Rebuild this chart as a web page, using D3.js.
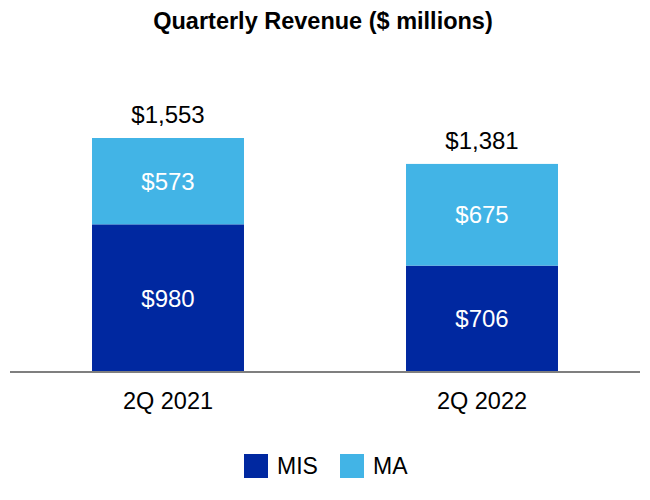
<!DOCTYPE html>
<html>
<head>
<meta charset="utf-8">
<script src="https://cdn.jsdelivr.net/npm/d3@7"></script>
<style>
  body { margin: 0; background: #fff; }
  svg { display: block; font-family: "Liberation Sans", Arial, sans-serif; }
</style>
</head>
<body>
<svg id="chart" width="650" height="500"></svg>
<script>
// Chart data
const quarters = ['2Q 2021', '2Q 2022'];
const misValues = [980, 706];
const maValues = [573, 675];
const totals = [1553, 1381];
const seriesNames = ['MIS', 'MA'];
const seriesColors = ['#0028a0', '#42b4e6'];

const svg = d3.select('#chart');
const baseY = 372;

// Scales
const xScale = d3.scaleBand()
    .domain(quarters)
    .range([11, 639])
    .paddingInner(0.516)
    .paddingOuter(0.258);

const yScale = d3.scaleLinear()
    .domain([0, 1553])
    .range([baseY, 138]);

// Title
svg.append('text')
    .attr('x', 323)
    .attr('y', 29)
    .attr('text-anchor', 'middle')
    .style('font-size', '23.5px')
    .style('font-weight', 'bold')
    .text('Quarterly Revenue ($ millions)');

// Stack data
const rows = quarters.map((q, i) => ({ quarter: q, MIS: misValues[i], MA: maValues[i], total: totals[i] }));
const stacked = d3.stack().keys(seriesNames)(rows);

const layers = svg.append('g')
    .selectAll('g')
    .data(stacked)
    .join('g')
    .attr('fill', (d, i) => seriesColors[i]);

layers.selectAll('rect')
    .data(d => d)
    .join('rect')
    .attr('x', d => xScale(d.data.quarter))
    .attr('width', xScale.bandwidth())
    .attr('y', d => yScale(d[1]))
    .attr('height', d => yScale(d[0]) - yScale(d[1]));

// Segment labels
layers.selectAll('text')
    .data(d => d)
    .join('text')
    .attr('x', d => xScale(d.data.quarter) + xScale.bandwidth() / 2)
    .attr('y', d => (yScale(d[0]) + yScale(d[1])) / 2)
    .attr('dy', '0.36em')
    .attr('text-anchor', 'middle')
    .attr('fill', '#fff')
    .style('font-size', '24px')
    .text(d => '$' + d3.format(',')(d[1] - d[0]));

// Total labels
svg.append('g')
    .selectAll('text')
    .data(rows)
    .join('text')
    .attr('x', d => xScale(d.quarter) + xScale.bandwidth() / 2)
    .attr('y', d => yScale(d.total) - 15)
    .attr('text-anchor', 'middle')
    .attr('fill', '#000')
    .style('font-size', '24px')
    .text(d => '$' + d3.format(',')(d.total));

// Baseline axis
const xAxis = d3.axisBottom(xScale).tickSize(0).tickPadding(20);
const axisG = svg.append('g')
    .attr('transform', `translate(0,${baseY})`)
    .call(xAxis);
axisG.select('.domain').remove();
axisG.append('line')
    .attr('x1', 10)
    .attr('x2', 640)
    .attr('stroke', '#7f7f7f')
    .attr('stroke-width', 2);
axisG.selectAll('.tick text')
    .attr('fill', '#000')
    .style('font-family', '"Liberation Sans", Arial, sans-serif')
    .style('font-size', '23.5px');

// Legend
const legendX = [244, 340];
const legend = svg.append('g')
    .selectAll('g')
    .data(seriesNames)
    .join('g')
    .attr('transform', (d, i) => `translate(${legendX[i]},454)`);
legend.append('rect')
    .attr('width', 24)
    .attr('height', 24)
    .attr('fill', (d, i) => seriesColors[i]);
legend.append('text')
    .attr('x', 33)
    .attr('y', 12)
    .attr('dy', '0.36em')
    .style('font-size', '23px')
    .text(d => d);
</script>
</body>
</html>
